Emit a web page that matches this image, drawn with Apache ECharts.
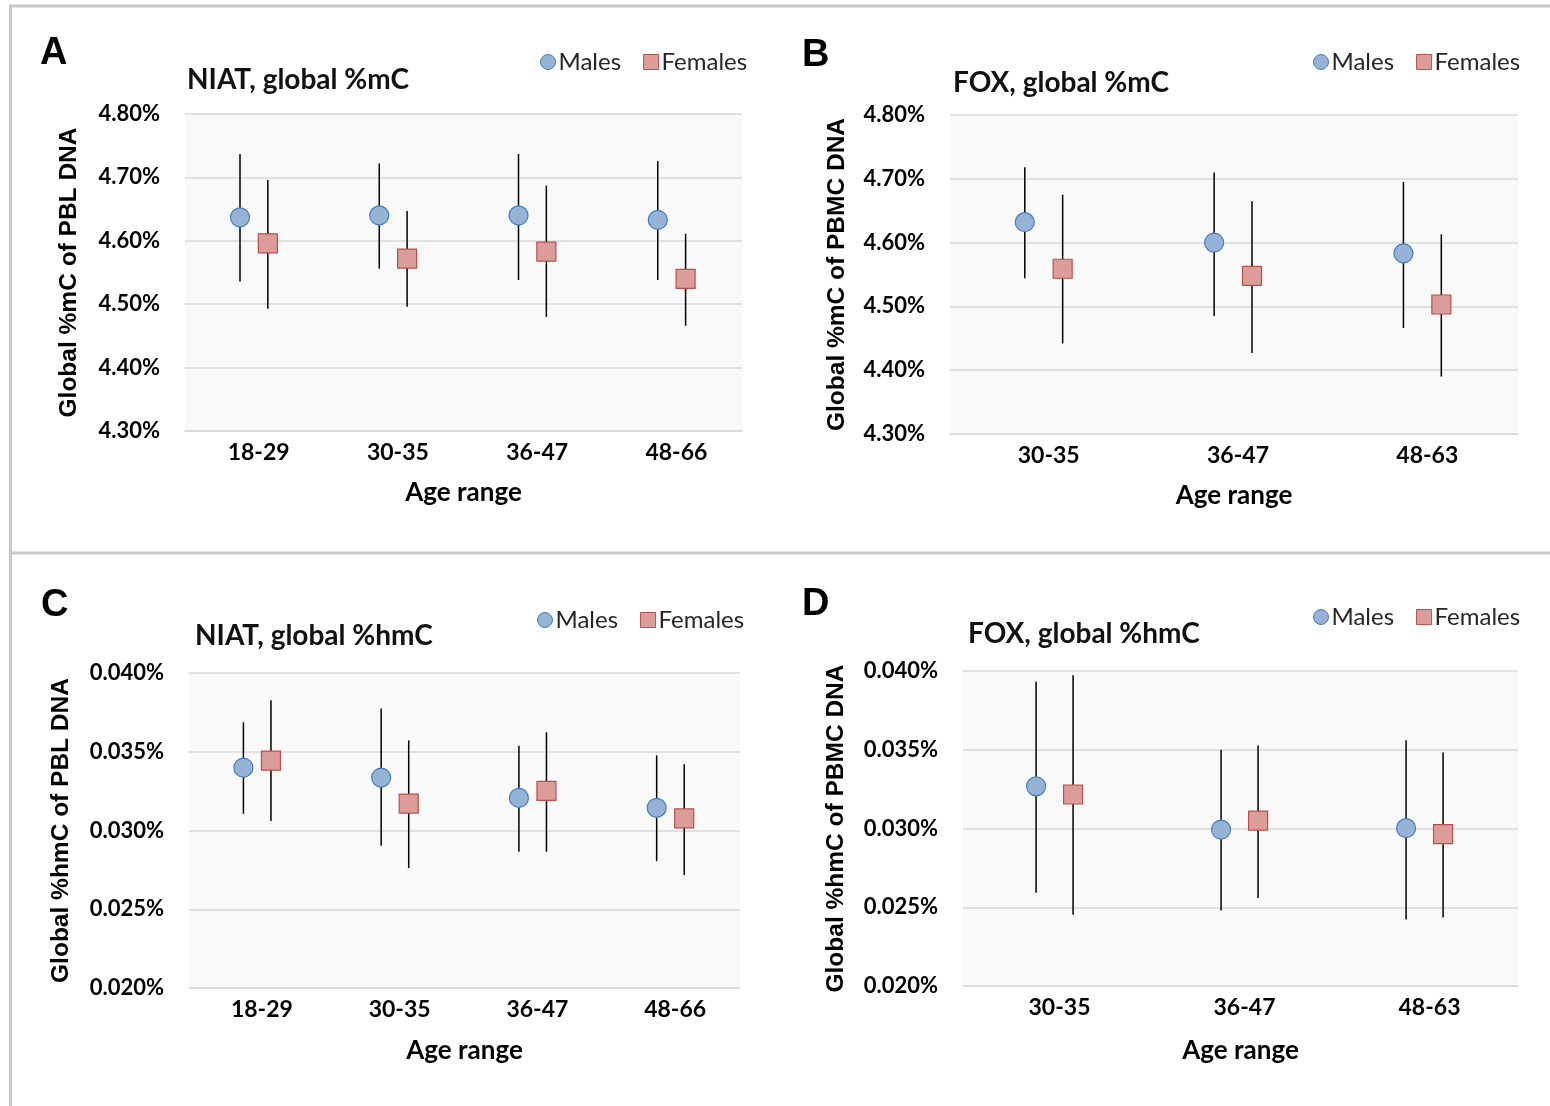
<!DOCTYPE html>
<html>
<head>
<meta charset="utf-8">
<script src="https://cdn.jsdelivr.net/npm/echarts@6/dist/echarts.min.js"></script>
<style>
  html, body { margin: 0; padding: 0; background: #fff; }
  #main { width: 1550px; height: 1106px; }
</style>
</head>
<body>
<div id="main"></div>
<script>
// 年龄分组
var niatAges = ['18-29', '30-35', '36-47', '48-66'];
var foxAges = ['30-35', '36-47', '48-63'];

// 每个点: [均值, 下限, 上限] (单位 %)
var niatMcMales = [[4.637, 4.536, 4.737], [4.640, 4.556, 4.722], [4.640, 4.538, 4.737], [4.633, 4.538, 4.726]];
var niatMcFemales = [[4.596, 4.493, 4.696], [4.572, 4.496, 4.647], [4.583, 4.480, 4.687], [4.540, 4.466, 4.611]];
var foxMcMales = [[4.632, 4.544, 4.718], [4.600, 4.485, 4.710], [4.583, 4.466, 4.695]];
var foxMcFemales = [[4.559, 4.442, 4.675], [4.548, 4.427, 4.665], [4.503, 4.390, 4.613]];
var niatHmcMales = [[0.03399, 0.03106, 0.03687], [0.03336, 0.02903, 0.03775], [0.03207, 0.02865, 0.03538], [0.03144, 0.02806, 0.03477]];
var niatHmcFemales = [[0.03444, 0.03061, 0.03827], [0.03171, 0.02761, 0.03572], [0.03252, 0.02865, 0.03624], [0.03077, 0.02718, 0.03421]];
var foxHmcMales = [[0.03268, 0.02592, 0.03932], [0.02993, 0.02480, 0.03500], [0.03002, 0.02423, 0.03561]];
var foxHmcFemales = [[0.03216, 0.02453, 0.03973], [0.03050, 0.02559, 0.03527], [0.02964, 0.02435, 0.03482]];

// y轴刻度 [min, max, interval]
var mcTicks = [4.30, 4.80, 0.10];
var hmcTicks = [0.020, 0.040, 0.005];

var maleColor = '#95b3d7', maleBorder = '#4a7ebb';
var femaleColor = '#dc9c9a', femaleBorder = '#b9504c';

var mycharts = echarts.init(document.getElementById('main'));

// 误差线 + 标记
function makeRender(isMale) {
    return function (params, api) {
        var i = api.value(0);
        var mid = api.coord([i, api.value(1)]);
        var lo = api.coord([i, api.value(2)]);
        var hi = api.coord([i, api.value(3)]);
        var band = api.size([1, 0])[0];
        var cx = mid[0] + band * (isMale ? -0.105 : 0.095);
        var cy = mid[1];
        var mark = isMale ? {
            type: 'circle',
            shape: { cx: cx, cy: cy, r: 9.5 },
            style: { fill: maleColor, stroke: maleBorder, lineWidth: 1.2 }
        } : {
            type: 'rect',
            shape: { x: cx - 9.5, y: cy - 9.5, width: 19, height: 19 },
            style: { fill: femaleColor, stroke: femaleBorder, lineWidth: 1.2 }
        };
        return {
            type: 'group',
            children: [{
                type: 'line',
                shape: { x1: cx, y1: lo[1], x2: cx, y2: hi[1] },
                style: { stroke: '#000', lineWidth: 1.5 }
            }, mark]
        };
    };
}

function toData(arr) {
    return arr.map(function (d, i) { return [i, d[0], d[1], d[2]]; });
}

function makeSeries(name, arr, idx) {
    var isMale = name === 'Males';
    return {
        name: name,
        type: 'custom',
        xAxisIndex: idx,
        yAxisIndex: idx,
        renderItem: makeRender(isMale),
        itemStyle: { color: isMale ? maleColor : femaleColor, borderColor: isMale ? maleBorder : femaleBorder },
        encode: { x: 0, y: [1, 2, 3] },
        data: toData(arr),
        z: isMale ? 3 : 4
    };
}

var grids = [
    { left: 185, top: 114, width: 557, height: 317 },
    { left: 950, top: 115, width: 568, height: 319 },
    { left: 189, top: 673, width: 551, height: 315 },
    { left: 963, top: 671, width: 555, height: 315 }
];
var cats = [niatAges, foxAges, niatAges, foxAges];
var yNames = ['Global %mC of PBL DNA', 'Global %mC of PBMC DNA', 'Global %hmC of PBL DNA', 'Global %hmC of PBMC DNA'];
var yGaps = [103, 100, 115, 114];
var yTicks = [mcTicks, mcTicks, hmcTicks, hmcTicks];
var yDigits = [2, 2, 3, 3];
var xGaps = [49, 49, 50, 52];

var xAxes = [], yAxes = [];
grids.forEach(function (g, k) {
    g.show = true;
    g.backgroundColor = '#f9f9f9';
    g.borderWidth = 0;
    xAxes.push({
        type: 'category',
        gridIndex: k,
        data: cats[k],
        axisTick: { show: false },
        axisLine: { lineStyle: { color: '#d9d9d9', width: 1.5 } },
        axisLabel: { color: '#000', fontFamily: 'Lato', fontWeight: 'bold', fontSize: 23, margin: 10, padding: [0, 0, 0, 8] },
        name: 'Age range',
        nameLocation: 'middle',
        nameGap: xGaps[k],
        nameTextStyle: { color: '#000', fontFamily: 'Lato', fontWeight: 'bold', fontSize: 26 }
    });
    yAxes.push({
        type: 'value',
        gridIndex: k,
        min: yTicks[k][0],
        max: yTicks[k][1],
        interval: yTicks[k][2],
        axisLine: { show: false },
        axisTick: { show: false },
        splitLine: { lineStyle: { color: '#d9d9d9', width: 1.5 } },
        axisLabel: {
            color: '#000', fontFamily: 'Lato', fontWeight: 'bold', fontSize: 22, margin: 25,
            formatter: (function (d) { return function (v) { return v.toFixed(d) + '%'; }; })(yDigits[k])
        },
        name: yNames[k],
        nameLocation: 'middle',
        nameRotate: 90,
        nameGap: yGaps[k],
        nameTextStyle: { color: '#000', fontFamily: 'Liberation Sans', fontWeight: 'bold', fontSize: 24.5 }
    });
});

function makeLegend(left, top) {
    return {
        left: left,
        top: top,
        padding: 0,
        itemWidth: 15,
        itemHeight: 15,
        itemGap: 22,
        textStyle: { color: '#262626', fontFamily: 'Lato', fontSize: 24, padding: [0, 0, 0, -2] },
        data: [
            { name: 'Males', icon: 'circle', itemStyle: { color: maleColor, borderColor: maleBorder, borderWidth: 1 } },
            { name: 'Females', icon: 'rect', itemStyle: { color: femaleColor, borderColor: femaleBorder, borderWidth: 1 } }
        ]
    };
}

function letter(text, left, top) {
    return {
        text: text, left: left, top: top, padding: 0,
        textStyle: { fontFamily: 'Liberation Sans', fontWeight: 'bold', fontSize: 38, color: '#000' }
    };
}
function heading(text, left, top) {
    return {
        text: text, left: left, top: top, padding: 0,
        textStyle: { fontFamily: 'Lato', fontWeight: 'bold', fontSize: 28, color: '#111' }
    };
}

var frame = { stroke: '#c8c8c8', lineWidth: 3 };

var option = {
    backgroundColor: '#fff',
    animation: false,
    title: [
        letter('A', 40, 35), letter('B', 802, 37), letter('C', 41, 587), letter('D', 802, 586),
        heading('NIAT, global %mC', 187, 66), heading('FOX, global %mC', 953, 69),
        heading('NIAT, global %hmC', 195, 622), heading('FOX, global %hmC', 968, 620)
    ],
    legend: [makeLegend(540, 50), makeLegend(1313, 50), makeLegend(537, 608), makeLegend(1313, 605)],
    grid: grids,
    xAxis: xAxes,
    yAxis: yAxes,
    // 外框
    graphic: [
        { type: 'line', shape: { x1: 9, y1: 6, x2: 1550, y2: 6 }, style: frame, silent: true },
        { type: 'line', shape: { x1: 10.5, y1: 5, x2: 10.5, y2: 1106 }, style: frame, silent: true },
        { type: 'line', shape: { x1: 9, y1: 553, x2: 1550, y2: 553 }, style: frame, silent: true }
    ],
    series: [
        makeSeries('Males', niatMcMales, 0), makeSeries('Females', niatMcFemales, 0),
        makeSeries('Males', foxMcMales, 1), makeSeries('Females', foxMcFemales, 1),
        makeSeries('Males', niatHmcMales, 2), makeSeries('Females', niatHmcFemales, 2),
        makeSeries('Males', foxHmcMales, 3), makeSeries('Females', foxHmcFemales, 3)
    ]
};
mycharts.setOption(option);
window.addEventListener('resize', function () {
    mycharts.resize();
});
</script>
</body>
</html>
